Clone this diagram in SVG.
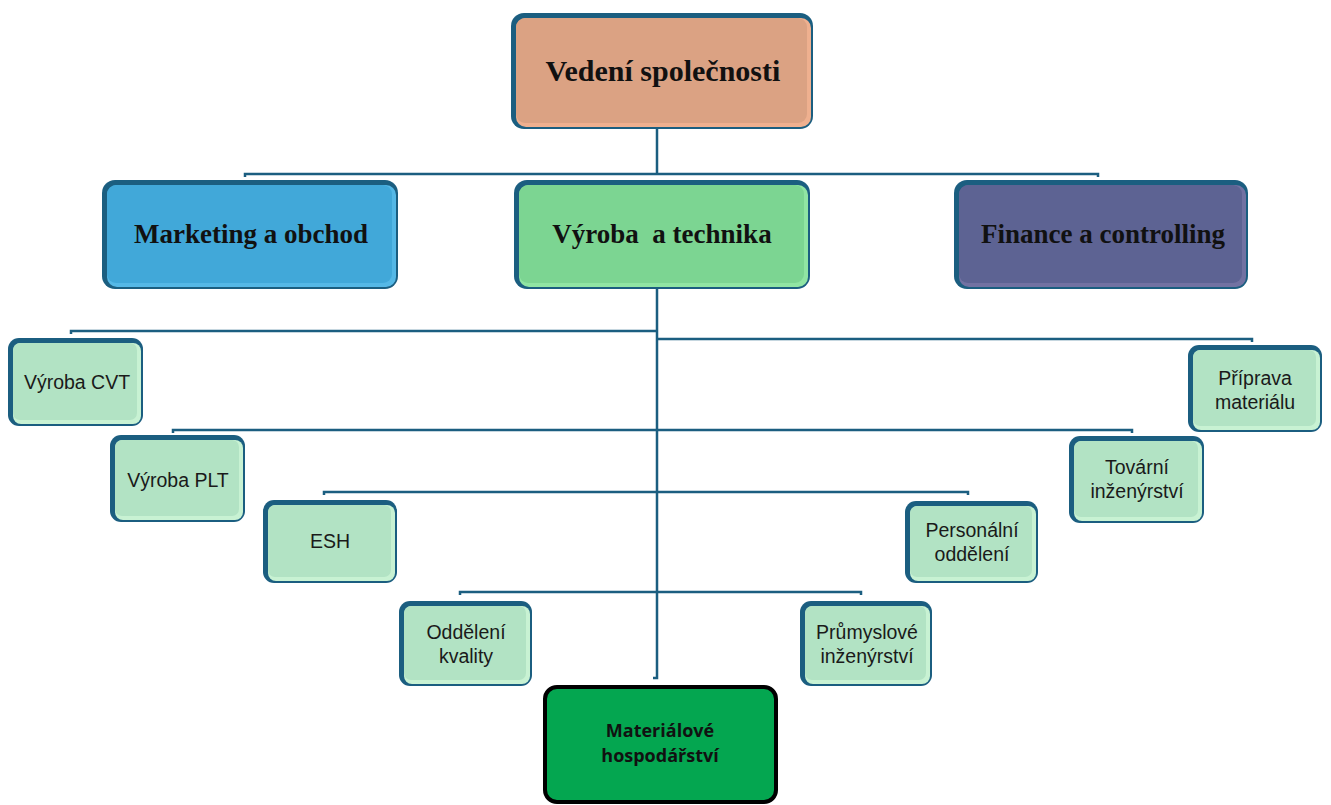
<svg xmlns="http://www.w3.org/2000/svg" width="1331" height="805" viewBox="0 0 1331 805">
<style>
  .conn { fill: none; stroke: #1B5E80; stroke-width: 2.5; }
  .edge { fill: #1B5E80; }
  .big { font-family: "Liberation Serif", "Times New Roman", serif; font-weight: bold; font-size: 27px; fill: #111; text-anchor: middle; white-space: pre; }
  .title { font-size: 30px; }
  .small { font-family: "Liberation Sans", Arial, sans-serif; font-size: 19.5px; fill: #1a1a1a; text-anchor: middle; }
  .lg { fill: #B2E3C4; }
  .lgb { fill: #C8F2D3; }
  .bold { font-family: "Open Sans", "Noto Sans", sans-serif; font-weight: bold; font-size: 18px; fill: #111; text-anchor: middle; }
</style>
<rect width="1331" height="805" fill="#ffffff"/>

<g id="connectors">
  <path class="conn" d="M657,129 V174"/>
  <path class="conn" d="M245,177 V174 H1098 V177"/>
  <path class="conn" d="M657,289 V678 H653"/>
  <path class="conn" d="M71,334 V331 H657"/>
  <path class="conn" d="M657,339 H1252 V342"/>
  <path class="conn" d="M173,433 V430 H1132 V433"/>
  <path class="conn" d="M324,495 V492 H968 V495"/>
  <path class="conn" d="M460,595 V592 H861 V595"/>
</g>

<g id="vedeni">
  <rect class="edge" x="511" y="13" width="302" height="116" rx="13"/>
  <rect x="516" y="18" width="295" height="109" rx="10" fill="#EFB08F"/>
  <rect x="516" y="18" width="291" height="105" rx="9" fill="#DBA283"/>
  <text class="big title" x="663" y="81">Vedení společnosti</text>
</g>

<g id="marketing">
  <rect class="edge" x="102" y="180" width="296" height="109" rx="13"/>
  <rect x="107" y="185" width="289" height="102" rx="10" fill="#55B8E6"/>
  <rect x="107" y="185" width="285" height="98" rx="9" fill="#41A8D9"/>
  <text class="big" x="251" y="243">Marketing a obchod</text>
</g>

<g id="vyroba">
  <rect class="edge" x="514" y="180" width="296" height="109" rx="13"/>
  <rect x="519" y="185" width="289" height="102" rx="10" fill="#90E5A3"/>
  <rect x="519" y="185" width="285" height="98" rx="9" fill="#7CD592"/>
  <text class="big" x="662" y="243">Výroba  a technika</text>
</g>

<g id="finance">
  <rect class="edge" x="954" y="180" width="294" height="109" rx="13"/>
  <rect x="959" y="185" width="287" height="102" rx="10" fill="#7272A2"/>
  <rect x="959" y="185" width="283" height="98" rx="9" fill="#5D6393"/>
  <text class="big" x="1103" y="243">Finance a controlling</text>
</g>

<g id="vyroba-cvt">
  <rect class="edge" x="8" y="338" width="135" height="88" rx="11"/>
  <rect class="lgb" x="13" y="343" width="128" height="81" rx="8"/>
  <rect class="lg" x="13" y="343" width="124" height="77" rx="7"/>
  <text class="small" x="77" y="389">Výroba CVT</text>
</g>

<g id="vyroba-plt">
  <rect class="edge" x="110" y="435" width="135" height="87" rx="11"/>
  <rect class="lgb" x="115" y="440" width="128" height="80" rx="8"/>
  <rect class="lg" x="115" y="440" width="124" height="76" rx="7"/>
  <text class="small" x="178" y="487">Výroba PLT</text>
</g>

<g id="esh">
  <rect class="edge" x="263" y="500" width="134" height="83" rx="11"/>
  <rect class="lgb" x="268" y="505" width="127" height="76" rx="8"/>
  <rect class="lg" x="268" y="505" width="123" height="72" rx="7"/>
  <text class="small" x="330" y="548">ESH</text>
</g>

<g id="oddeleni-kvality">
  <rect class="edge" x="399" y="601" width="133" height="85" rx="11"/>
  <rect class="lgb" x="404" y="606" width="126" height="78" rx="8"/>
  <rect class="lg" x="404" y="606" width="122" height="74" rx="7"/>
  <text class="small" x="466" y="639">Oddělení</text>
  <text class="small" x="466" y="663">kvality</text>
</g>

<g id="prumyslove">
  <rect class="edge" x="800" y="601" width="132" height="85" rx="11"/>
  <rect class="lgb" x="805" y="606" width="125" height="78" rx="8"/>
  <rect class="lg" x="805" y="606" width="121" height="74" rx="7"/>
  <text class="small" x="867" y="639">Průmyslové</text>
  <text class="small" x="867" y="663">inženýrství</text>
</g>

<g id="personalni">
  <rect class="edge" x="905" y="501" width="133" height="82" rx="11"/>
  <rect class="lgb" x="910" y="506" width="126" height="75" rx="8"/>
  <rect class="lg" x="910" y="506" width="122" height="71" rx="7"/>
  <text class="small" x="972" y="537">Personální</text>
  <text class="small" x="972" y="561">oddělení</text>
</g>

<g id="tovarni">
  <rect class="edge" x="1069" y="436" width="135" height="87" rx="11"/>
  <rect class="lgb" x="1074" y="441" width="128" height="80" rx="8"/>
  <rect class="lg" x="1074" y="441" width="124" height="76" rx="7"/>
  <text class="small" x="1137" y="474">Tovární</text>
  <text class="small" x="1137" y="498">inženýrství</text>
</g>

<g id="priprava">
  <rect class="edge" x="1188" y="345" width="134" height="87" rx="11"/>
  <rect class="lgb" x="1193" y="350" width="127" height="80" rx="8"/>
  <rect class="lg" x="1193" y="350" width="123" height="76" rx="7"/>
  <text class="small" x="1255" y="385">Příprava</text>
  <text class="small" x="1255" y="409">materiálu</text>
</g>

<g id="materialove">
  <rect x="545" y="687" width="231" height="115" rx="12" fill="#04A650" stroke="#000" stroke-width="4"/>
  <text class="bold" x="660" y="737">Materiálové</text>
  <text class="bold" x="660" y="762">hospodářství</text>
</g>
</svg>
